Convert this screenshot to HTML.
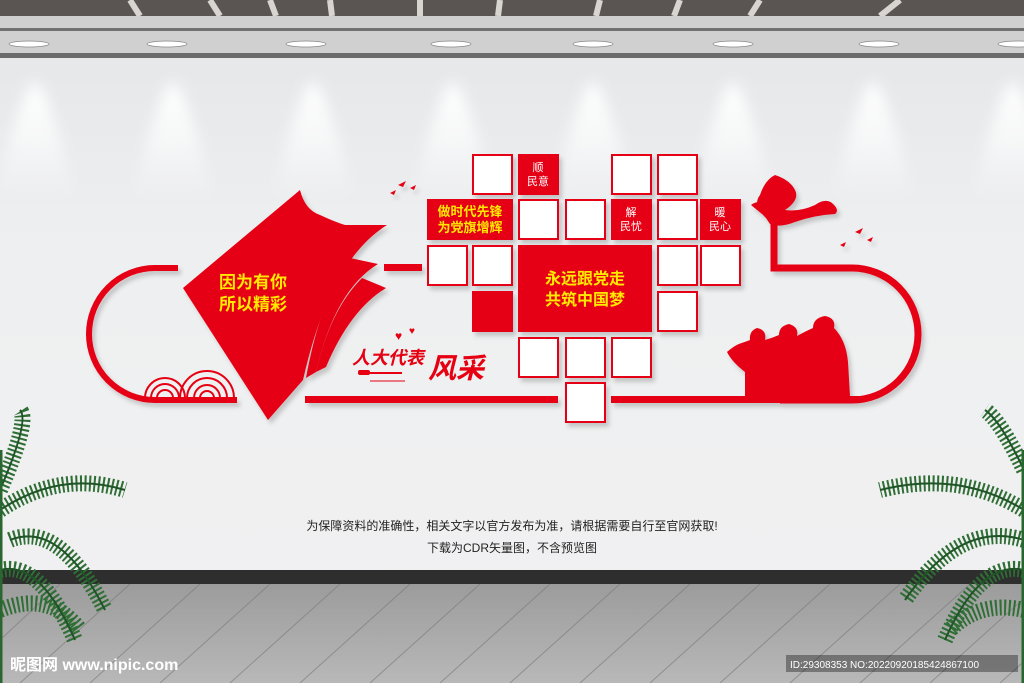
<!DOCTYPE html>
<html><head><meta charset="utf-8"><style>
body{margin:0;width:1024px;height:683px;overflow:hidden;font-family:"Liberation Sans","Noto Sans CJK SC",sans-serif;}
</style></head><body>
<svg width="1024" height="683" viewBox="0 0 1024 683" xmlns="http://www.w3.org/2000/svg" font-family="Liberation Sans, Noto Sans CJK SC, sans-serif">
<defs>
<linearGradient id="cone" x1="0" y1="0" x2="0" y2="1"><stop offset="0" stop-color="#ffffff" stop-opacity="1"/><stop offset="0.5" stop-color="#ffffff" stop-opacity="0.6"/><stop offset="1" stop-color="#ffffff" stop-opacity="0"/></linearGradient>
<linearGradient id="wall" x1="0" y1="0" x2="0" y2="1"><stop offset="0" stop-color="#e3e5e7"/><stop offset="0.35" stop-color="#eeeff0"/><stop offset="1" stop-color="#f1f1f2"/></linearGradient>
<linearGradient id="floor" x1="0" y1="0" x2="0" y2="1"><stop offset="0" stop-color="#9c9c9c"/><stop offset="1" stop-color="#b8b8b8"/></linearGradient>
<filter id="sh" x="-20%" y="-20%" width="150%" height="150%"><feDropShadow dx="3" dy="4" stdDeviation="2" flood-color="#000" flood-opacity="0.18"/></filter>
<filter id="blur" x="-50%" y="-50%" width="200%" height="200%"><feGaussianBlur stdDeviation="7"/></filter>
<path id="c" d="M0 82 C-10 82 -30 150 -40 200 L40 200 C30 150 10 82 0 82 Z"/>
</defs>
<rect width="1024" height="683" fill="url(#wall)"/>
<rect x="0" y="0" width="1024" height="16" fill="#5a5552"/>
<g stroke="#d8d4d0" stroke-width="6">
<line x1="130" y1="0" x2="140" y2="16"/><line x1="210" y1="0" x2="220" y2="16"/><line x1="270" y1="0" x2="276" y2="16"/><line x1="330" y1="0" x2="332" y2="16"/><line x1="420" y1="0" x2="420" y2="16"/><line x1="500" y1="0" x2="498" y2="16"/><line x1="600" y1="0" x2="596" y2="16"/><line x1="680" y1="0" x2="674" y2="16"/><line x1="760" y1="0" x2="750" y2="16"/><line x1="900" y1="0" x2="880" y2="16"/>
</g>
<rect x="0" y="16" width="1024" height="12" fill="#cfcfcf"/>
<rect x="0" y="28" width="1024" height="3" fill="#707070"/>
<rect x="0" y="31" width="1024" height="22" fill="#d0d0d0"/>
<rect x="0" y="53" width="1024" height="5" fill="#6a6a6a"/>
<g fill="#fff" stroke="#888" stroke-width="0.8">
<ellipse cx="29" cy="44" rx="20" ry="3"/><ellipse cx="167" cy="44" rx="20" ry="3"/><ellipse cx="306" cy="44" rx="20" ry="3"/><ellipse cx="451" cy="44" rx="20" ry="3"/><ellipse cx="593" cy="44" rx="20" ry="3"/><ellipse cx="733" cy="44" rx="20" ry="3"/><ellipse cx="879" cy="44" rx="20" ry="3"/><ellipse cx="1018" cy="44" rx="20" ry="3"/>
</g>
<g fill="url(#cone)" filter="url(#blur)">
<use href="#c" x="35"/><use href="#c" x="173"/><use href="#c" x="313"/><use href="#c" x="453"/><use href="#c" x="593"/><use href="#c" x="733"/><use href="#c" x="873"/><use href="#c" x="1013"/>
</g>
<rect x="0" y="570" width="1024" height="14" fill="#2e2e2e"/>
<rect x="0" y="584" width="1024" height="99" fill="url(#floor)"/>
<g stroke="#7e7e7e" stroke-width="1" opacity="0.7">
<line x1="60" y1="584" x2="0" y2="640"/><line x1="130" y1="584" x2="20" y2="683"/><line x1="200" y1="584" x2="90" y2="683"/><line x1="270" y1="584" x2="160" y2="683"/><line x1="340" y1="584" x2="230" y2="683"/><line x1="410" y1="584" x2="300" y2="683"/><line x1="480" y1="584" x2="370" y2="683"/><line x1="550" y1="584" x2="440" y2="683"/><line x1="620" y1="584" x2="510" y2="683"/><line x1="690" y1="584" x2="580" y2="683"/><line x1="760" y1="584" x2="650" y2="683"/><line x1="830" y1="584" x2="720" y2="683"/><line x1="900" y1="584" x2="790" y2="683"/><line x1="970" y1="584" x2="860" y2="683"/><line x1="1040" y1="584" x2="930" y2="683"/><line x1="1110" y1="584" x2="1000" y2="683"/>
</g>

<g filter="url(#sh)" fill="#e60012">
<path d="M178 268 L155 268 A66 66 0 0 0 155 400 L237 400" fill="none" stroke="#e60012" stroke-width="6"/>
<path d="M183 288 L300 190 Q305 210 320 215 Q335 222 345 225 L387 225 Q330 260 303 380 L268 420 Z"/>
<path d="M306 378 Q320 300 350 258 L378 264 Q335 290 316 372 Z"/>
<path d="M316 372 Q330 310 362 278 L386 288 Q350 310 326 367 Z"/>
<rect x="384" y="264" width="38" height="7"/>
<rect x="305" y="396" width="253" height="7"/>
<rect x="611" y="396" width="250" height="7"/>
<path d="M774 215 L774 268 L852 268 A66 66 0 0 1 852 400 L780 400" fill="none" stroke="#e60012" stroke-width="7"/>
<path d="M766 218 Q752 205 760 195 Q765 180 775 175 Q790 180 795 190 Q800 200 785 210 Q800 212 815 205 Q825 198 832 203 Q840 210 835 214 Q815 215 795 222 Q780 228 770 224 Z"/>
<path d="M751 205 Q760 198 770 208 L762 214 Z"/>
<path d="M745 396 L745 372 Q732 362 727 352 Q738 344 750 340 Q749 331 757 328 Q767 330 765 340 Q772 338 779 335 Q779 326 789 324 Q799 327 797 336 Q806 331 813 328 Q813 318 825 316 Q836 318 834 328 Q846 340 848 362 L850 396 Z"/>
<path d="M727 352 Q745 336 760 345 L748 352 Z"/>
<path d="M398 185 l8 -4 l-3 6 z M410 188 l6 -3 l-2 5z M390 193 l6 -3 l-2 5z"/>
<path d="M855 232 l8 -4 l-3 6z M867 240 l6 -3 l-2 5z M840 245 l6 -3 l-2 5z"/>
</g>
<g fill="none" stroke="#e60012" stroke-width="2">
<path d="M145 398 A20 20 0 0 1 185 398"/><path d="M151 398 A14 14 0 0 1 179 398"/><path d="M157 398 A8 8 0 0 1 173 398"/>
<path d="M180 398 A27 27 0 0 1 234 398"/><path d="M187 398 A20 20 0 0 1 227 398"/><path d="M194 398 A13 13 0 0 1 220 398"/><path d="M200 398 A7 7 0 0 1 214 398"/>
</g>
<text fill="#ffea00" font-size="17" font-weight="bold"><tspan x="219" y="288">因为有你</tspan><tspan x="219" y="310">所以精彩</tspan></text>
<text x="352" y="364" fill="#e60012" font-size="18" font-weight="bold" font-style="italic">人大代表</text>
<text x="428" y="378" fill="#e60012" font-size="28" font-weight="bold" font-style="italic">风采</text>
<text x="395" y="340" fill="#e60012" font-size="12">♥</text><text x="409" y="334" fill="#e60012" font-size="10">♥</text>
<rect x="358" y="370" width="12" height="5" rx="2" fill="#e60012"/><rect x="370" y="372" width="32" height="2" fill="#e60012"/><line x1="370" y1="381" x2="405" y2="381" stroke="#e60012" stroke-width="1"/>

<g filter="url(#sh)">
<g fill="#fff" stroke="#e60012" stroke-width="2">
<rect x="473" y="155" width="39" height="39"/><rect x="612" y="155" width="39" height="39"/><rect x="658" y="155" width="39" height="39"/>
<rect x="519" y="200" width="39" height="39"/><rect x="566" y="200" width="39" height="39"/><rect x="658" y="200" width="39" height="39"/>
<rect x="428" y="246" width="39" height="39"/><rect x="473" y="246" width="39" height="39"/><rect x="658" y="246" width="39" height="39"/><rect x="701" y="246" width="39" height="39"/>
<rect x="658" y="292" width="39" height="39"/>
<rect x="519" y="338" width="39" height="39"/><rect x="566" y="338" width="39" height="39"/><rect x="612" y="338" width="39" height="39"/>
<rect x="566" y="383" width="39" height="39"/>
</g>
<g fill="#e60012">
<rect x="518" y="154" width="41" height="41"/><rect x="427" y="199" width="86" height="41"/><rect x="611" y="199" width="41" height="41"/><rect x="700" y="199" width="41" height="41"/>
<rect x="518" y="245" width="134" height="87"/><rect x="472" y="291" width="41" height="41"/>
</g>
</g>
<g fill="#fff" font-size="11" text-anchor="middle">
<text x="538" y="171">顺</text><text x="538" y="185">民意</text>
<text x="631" y="216">解</text><text x="631" y="230">民忧</text>
<text x="720" y="216">暖</text><text x="720" y="230">民心</text>
</g>
<g fill="#ffea00" font-weight="bold" text-anchor="middle">
<text x="470" y="216" font-size="13">做时代先锋</text><text x="470" y="232" font-size="13">为党旗增辉</text>
<text x="585" y="284" font-size="16">永远跟党走</text><text x="585" y="305" font-size="16">共筑中国梦</text>
</g>

<text x="512" y="530" font-size="12" fill="#222" text-anchor="middle">为保障资料的准确性，相关文字以官方发布为准，请根据需要自行至官网获取!</text>
<text x="512" y="552" font-size="12" fill="#222" text-anchor="middle">下载为CDR矢量图，不含预览图</text>

<g fill="none" stroke-linecap="butt">
<g stroke="#2f6e35" stroke-width="16" stroke-dasharray="2 2.5">
<path d="M0 490 Q30 420 20 410"/>
<path d="M0 510 Q60 470 125 490"/>
<path d="M10 540 Q60 520 105 610"/>
<path d="M0 570 Q40 560 75 640"/>
<path d="M0 610 Q50 590 80 630"/>
<path d="M1024 470 Q1000 420 985 410"/>
<path d="M1024 510 Q960 470 880 490"/>
<path d="M1024 540 Q960 520 905 600"/>
<path d="M1024 570 Q980 560 945 640"/>
<path d="M1024 610 Q980 600 950 630"/>
</g>
<g stroke="#1f5526" stroke-width="2">
<path d="M0 490 Q30 420 20 410"/><path d="M0 510 Q60 470 125 490"/><path d="M10 540 Q60 520 105 610"/><path d="M0 570 Q40 560 75 640"/>
<path d="M1024 470 Q1000 420 985 410"/><path d="M1024 510 Q960 470 880 490"/><path d="M1024 540 Q960 520 905 600"/><path d="M1024 570 Q980 560 945 640"/>
</g>
<g stroke="#2a6630" stroke-width="5"><path d="M0 683 L0 450"/><path d="M1024 683 L1024 450"/></g>
</g>
<text x="10" y="670" font-size="16" fill="#fff" font-weight="bold">昵图网 www.nipic.com</text>
<rect x="786" y="655" width="232" height="17" fill="#000" opacity="0.35"/>
<text x="790" y="668" font-size="10" fill="#fff">ID:29308353 NO:20220920185424867100</text>
</svg>
</body></html>
